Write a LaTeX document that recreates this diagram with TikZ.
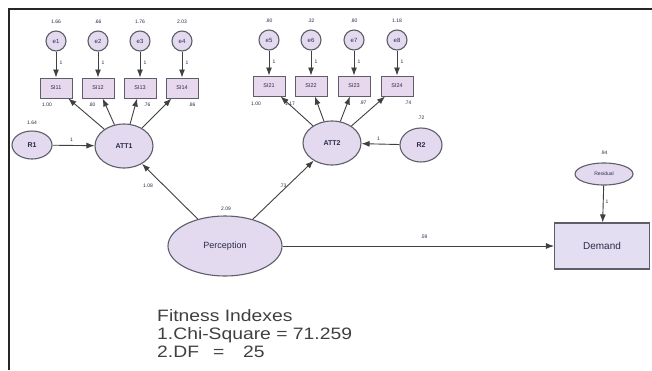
\documentclass[tikz,border=0pt]{standalone}
\usepackage{fontspec}
\setmainfont{Liberation Sans}
\usetikzlibrary{shapes.geometric,arrows.meta}
\definecolor{ellfill}{HTML}{E3DAF0}
\definecolor{boxfill}{HTML}{E8D8EE}
\definecolor{demfill}{HTML}{E4DEF2}
\definecolor{edge}{HTML}{5E5E68}
\definecolor{txt}{HTML}{2A2A4A}
\tikzset{
  every node/.style={text=txt},
  lat/.style={ellipse,draw=edge,line width=1.1pt,fill=ellfill,inner sep=0pt,font=\bfseries\fontsize{7}{8}\selectfont},
  err/.style={ellipse,draw=edge,line width=1.1pt,fill=ellfill,minimum width=20pt,minimum height=20pt,inner sep=0pt,font=\fontsize{6}{7}\selectfont},
  obs/.style={rectangle,draw=edge,line width=1pt,fill=boxfill,minimum width=32pt,minimum height=20pt,inner sep=0pt,font=\fontsize{5.5}{6}\selectfont},
  num/.style={font=\fontsize{5}{6}\selectfont,inner sep=0pt},
  arr/.style={draw=black!75,line width=0.9pt,-{Latex[length=8pt,width=6pt]}},
  fittext/.style={anchor=base west,inner sep=0pt,text=black!75,font=\fontsize{16.5}{18}\selectfont,xscale=1.17},
}
\begin{document}
\begin{tikzpicture}[x=1pt,y=-1pt]
\useasboundingbox (0,0) rectangle (652,370);
\fill[white] (0,0) rectangle (652,370);
% frame
\draw[line width=2pt,black!85] (9,370) -- (9,9) -- (652,9);

% error terms group 1
\foreach \n/\x/\v in {1/56/1.66,2/98/.66,3/140/1.76,4/182/2.03}{
  \node[err] (e\n) at (\x,41) {e\n};
  \node[num] (ve\n) at (\x,22) {\v};
}
\foreach \n/\x in {1/56,2/98,3/140,4/182}{
  \node[obs] (s1\n) at (\x,88) {SI1\n};
  \draw[arr] (e\n) -- (s1\n);
  \node[num] (one1\n) at (\x+5,63) {1};
}
% error terms group 2
\foreach \n/\x/\v in {5/269/.80,6/311/.32,7/354/.80,8/397/1.18}{
  \node[err] (e\n) at (\x,40) {e\n};
  \node[num] (ve\n) at (\x,21) {\v};
}
\foreach \n/\m/\x in {5/1/269,6/2/311,7/3/354,8/4/397}{
  \node[obs] (s2\m) at (\x,86) {SI2\m};
  \draw[arr] (e\n) -- (s2\m);
  \node[num] (one2\m) at (\x+5,62) {1};
}

% latent factors
\node[lat,minimum width=58pt,minimum height=44pt] (att1) at (124,146) {ATT1};
\node[lat,minimum width=58pt,minimum height=44pt] (att2) at (332,143) {ATT2};
\node[lat,minimum width=40pt,minimum height=28pt] (r1) at (32,145) {R1};
\node[lat,minimum width=42pt,minimum height=34pt] (r2) at (421,145) {R2};
\node[num] (vr1) at (32,123) {1.64};
\node[num] (vr2) at (421,118) {.72};
\draw[arr] (r1) -- (att1) node[num,pos=0.45,above=3pt] {1};
\draw[arr] (r2) -- (att2) node[num,pos=0.55,above=3pt] {1};

% loadings
\foreach \n in {1,2,3,4}{ \draw[arr] (att1) -- (s1\n); }
\foreach \n in {1,2,3,4}{ \draw[arr] (att2) -- (s2\n); }
\node[num] (l11) at (47,105) {1.00};
\node[num] (l12) at (92,105) {.80};
\node[num] (l13) at (147,105) {.76};
\node[num] (l14) at (192,105) {.86};
\node[num] (l21) at (256,104) {1.00};
\node[num] (l22) at (290,104) {1.17};
\node[num] (l23) at (363,103) {.97};
\node[num] (l24) at (408,103) {.74};

% perception
\node[ellipse,draw=edge,line width=1.1pt,fill=ellfill,minimum width=114pt,minimum height=60pt,inner sep=0pt,font=\fontsize{9}{10}\selectfont] (perc) at (225,246) {Perception};
\node[num] (vperc) at (226,209) {2.09};
\draw[arr] (perc) -- (att1);
\draw[arr] (perc) -- (att2);
\node[num] (p1) at (148,186) {1.08};
\node[num] (p2) at (283,186) {.73};

% demand
\node[rectangle,draw=edge,line width=1.1pt,fill=demfill,minimum width=95pt,minimum height=46pt,inner sep=0pt,font=\fontsize{10}{11}\selectfont] (dem) at (602,246) {Demand};
\node[ellipse,draw=edge,line width=1.1pt,fill=ellfill,minimum width=58pt,minimum height=22pt,inner sep=0pt,font=\fontsize{5}{6}\selectfont] (res) at (604,174) {Residual};
\node[num] (vres) at (604,153) {.94};
\draw[arr] (res) -- (dem) node[num,pos=0.45,right=2pt] {1};
\draw[arr] (perc) -- (dem);
\node[num] (p3) at (424,237) {.59};

% fitness
\node[fittext] (fit1) at (157,321) {Fitness Indexes};
\node[fittext] (fit2) at (157,339) {1.Chi-Square = 71.259};
\node[fittext] (fit3) at (157,357) {2.DF};
\node[fittext] (fit4) at (213,357) {=};
\node[fittext] (fit5) at (243,357) {25};
\end{tikzpicture}
\end{document}
